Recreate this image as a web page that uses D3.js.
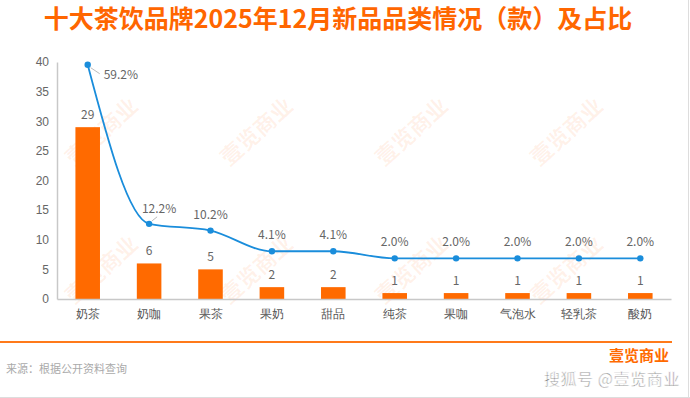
<!DOCTYPE html>
<html>
<head>
<meta charset="utf-8">
<script src="https://cdn.jsdelivr.net/npm/d3@7"></script>
<style>
  body { margin: 0; background: #fff; }
  svg { display: block; font-family: "Noto Sans CJK SC", "Noto Sans", sans-serif; }
</style>
</head>
<body>
<div class="chart-canvas"></div>
<script>
  // data
  var categories = ["奶茶", "奶咖", "果茶", "果奶", "甜品", "纯茶", "果咖", "气泡水", "轻乳茶", "酸奶"];
  var counts = [29, 6, 5, 2, 2, 1, 1, 1, 1, 1];
  var shares = [59.2, 12.2, 10.2, 4.1, 4.1, 2.0, 2.0, 2.0, 2.0, 2.0];
  var countTicks = [0, 5, 10, 15, 20, 25, 30, 35, 40];
  var title = "十大茶饮品牌2025年12月新品品类情况（款）及占比";
  var source = "来源：根据公开资料查询";
  var brand = "壹览商业";

  var width = 690, height = 398;
  var plotLeft = 57, plotRight = 671, plotTop = 62, plotBottom = 299;
  var orange = "#ff6a00", blue = "#1a8ddb", grey = "#666";

  var svg = d3.select(".chart-canvas")
    .append("svg")
    .attr("width", width)
    .attr("height", height);

  // faint diagonal watermarks
  [103, 258, 413, 568].forEach(wx => {
    [133, 271].forEach(wy => {
      svg.append("text")
        .attr("transform", `translate(${wx},${wy}) rotate(-42)`)
        .attr("text-anchor", "middle")
        .attr("dominant-baseline", "middle")
        .attr("font-size", 22)
        .attr("font-weight", "bold")
        .attr("fill", "rgba(255,110,30,0.09)")
        .text(brand);
    });
  });

  svg.append("text")
    .attr("x", 338)
    .attr("y", 28)
    .attr("text-anchor", "middle")
    .attr("font-size", 25)
    .attr("font-weight", "bold")
    .attr("fill", "#ff6600")
    .text(title);

  var x = d3.scaleBand()
    .domain(categories)
    .range([plotLeft, plotRight])
    .paddingInner(0.6)
    .paddingOuter(0.3);

  var y = d3.scaleLinear()
    .domain([0, 40])
    .range([plotBottom, plotTop]);

  // hidden second axis for the share line
  var y2 = d3.scaleLinear()
    .domain([-10, 60])
    .range([plotBottom, plotTop]);

  var yAxis = g => g
    .attr("transform", `translate(${plotLeft},0)`)
    .call(d3.axisLeft(y).tickValues(countTicks).tickSize(0).tickPadding(8))
    .call(g => g.select(".domain").attr("stroke", "#c8c8c8").attr("stroke-width", 1.5))
    .call(g => g.selectAll("text").attr("fill", grey).attr("font-size", 12).attr("font-family", null));

  var xAxis = g => g
    .attr("transform", `translate(0,${plotBottom})`)
    .call(d3.axisBottom(x).tickSize(0).tickPadding(10))
    .call(g => g.select(".domain").attr("stroke", "#c8c8c8").attr("stroke-width", 1.5))
    .call(g => g.selectAll("text").attr("fill", "#555").attr("font-size", 12).attr("font-family", null));

  svg.selectAll("rect.bar")
    .data(counts)
    .enter()
    .append("rect")
    .attr("class", "bar")
    .attr("x", (d, i) => x(categories[i]))
    .attr("y", d => y(d))
    .attr("width", x.bandwidth())
    .attr("height", d => y(0) - y(d))
    .attr("fill", orange);

  svg.append("g").call(yAxis);
  svg.append("g").call(xAxis);

  svg.selectAll("text.count")
    .data(counts)
    .enter()
    .append("text")
    .attr("class", "count")
    .attr("x", (d, i) => x(categories[i]) + x.bandwidth() / 2)
    .attr("y", d => y(d) - 8)
    .attr("text-anchor", "middle")
    .attr("font-size", 12)
    .attr("fill", grey)
    .text(d => d);

  var cx = i => x(categories[i]) + x.bandwidth() / 2;

  svg.append("path")
    .datum(shares)
    .attr("fill", "none")
    .attr("stroke", blue)
    .attr("stroke-width", 1.8)
    .attr("d", d3.line()
      .curve(d3.curveMonotoneX)
      .x((d, i) => cx(i))
      .y(d => y2(d)));

  svg.selectAll("circle.dot")
    .data(shares)
    .enter()
    .append("circle")
    .attr("class", "dot")
    .attr("cx", (d, i) => cx(i))
    .attr("cy", d => y2(d))
    .attr("r", 3.2)
    .attr("fill", blue);

  // the first two labels are pushed aside with a short leader line
  var labelShift = i => i == 0 ? [16, 14] : i == 1 ? [10, -11] : [0, -12];

  svg.selectAll("line.leader")
    .data(shares.slice(0, 2))
    .enter()
    .append("line")
    .attr("class", "leader")
    .attr("x1", (d, i) => cx(i) + 3)
    .attr("y1", d => y2(d) + (d > 50 ? 3 : -3))
    .attr("x2", (d, i) => cx(i) + (i == 0 ? 12 : 8))
    .attr("y2", d => y2(d) + (d > 50 ? 9 : -7))
    .attr("stroke", "#bbb")
    .attr("stroke-width", 1);

  svg.selectAll("text.share")
    .data(shares)
    .enter()
    .append("text")
    .attr("class", "share")
    .attr("x", (d, i) => cx(i) + labelShift(i)[0])
    .attr("y", (d, i) => y2(d) + labelShift(i)[1])
    .attr("text-anchor", (d, i) => i == 0 ? "start" : "middle")
    .attr("font-size", 12)
    .attr("fill", grey)
    .text(d => d.toFixed(1) + "%");

  // footer
  svg.append("line")
    .attr("x1", 0).attr("x2", 672)
    .attr("y1", 342).attr("y2", 342)
    .attr("stroke", "#ff7a1a")
    .attr("stroke-width", 2);

  svg.append("text")
    .attr("x", 6)
    .attr("y", 373)
    .attr("font-size", 11)
    .attr("fill", "#aaa")
    .text(source);

  svg.append("text")
    .attr("x", 669)
    .attr("y", 361)
    .attr("text-anchor", "end")
    .attr("font-size", 15)
    .attr("font-weight", "bold")
    .attr("fill", orange)
    .text(brand);

  svg.append("text")
    .attr("x", 680)
    .attr("y", 385)
    .attr("text-anchor", "end")
    .attr("font-size", 16)
    .attr("fill", "#777")
    .attr("stroke", "#fff")
    .attr("stroke-width", 0.6)
    .attr("letter-spacing", 0.6)
    .text("搜狐号 @" + brand);

  // frame edges
  svg.append("line")
    .attr("x1", 688.5).attr("x2", 688.5)
    .attr("y1", 0).attr("y2", height)
    .attr("stroke", "#ddd");
  svg.append("line")
    .attr("x1", 0).attr("x2", width)
    .attr("y1", 397.5).attr("y2", 397.5)
    .attr("stroke", "#ddd");
</script>
</body>
</html>
